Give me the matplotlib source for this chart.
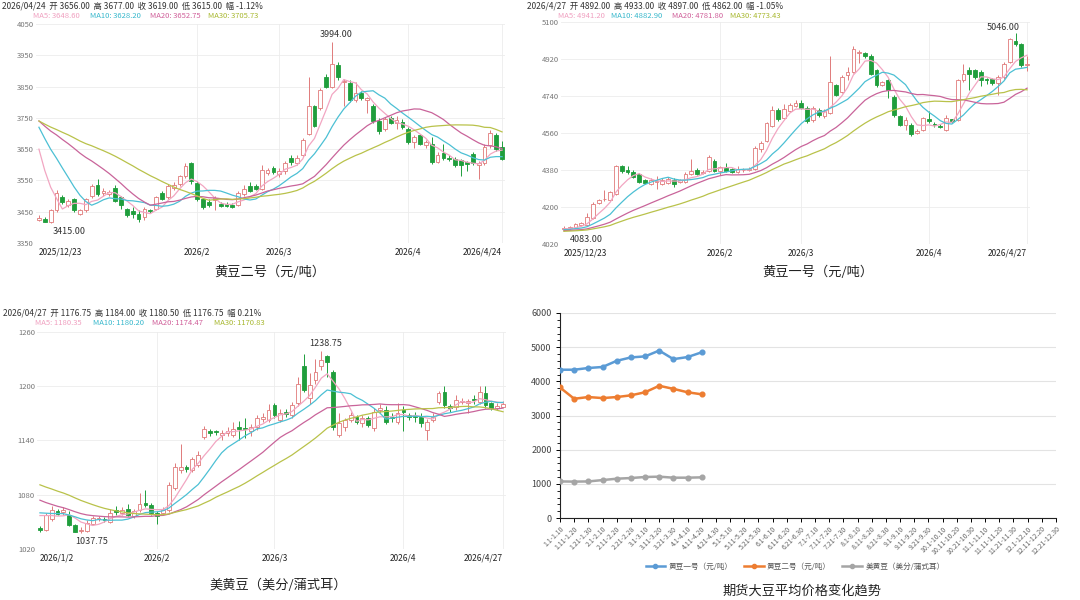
import numpy as np
import pandas as pd
import matplotlib
matplotlib.use("Agg")
import matplotlib.pyplot as plt
from matplotlib.ticker import MultipleLocator
from matplotlib.lines import Line2D

plt.rcParams['font.family'] = ['Noto Sans CJK SC', 'DejaVu Sans']
plt.rcParams['axes.unicode_minus'] = False

# ---------------- 黄豆二号 (daily candles 2025/12/23 - 2026/4/24)
d2_open = [3424, 3428, 3418, 3454, 3496, 3470, 3490, 3444, 3454, 3500,
           3534, 3509, 3506, 3527, 3496, 3459, 3451, 3444, 3433, 3456,
           3459, 3511, 3496, 3527, 3537, 3563, 3605, 3543, 3490, 3480,
           3488, 3475, 3475, 3472, 3470, 3506, 3532, 3531, 3522, 3574,
           3589, 3569, 3579, 3621, 3605, 3631, 3699, 3787, 3782, 3881,
           3850, 3918, 3866, 3860, 3808, 3829, 3806, 3787, 3741, 3715,
           3749, 3735, 3738, 3715, 3673, 3694, 3662, 3668, 3610, 3637,
           3623, 3618, 3616, 3608, 3633, 3600, 3605, 3662, 3694, 3656]
d2_close = [3430, 3418, 3454, 3511, 3480, 3485, 3454, 3454, 3490, 3532,
            3506, 3516, 3514, 3485, 3470, 3438, 3443, 3428, 3459, 3451,
            3496, 3490, 3532, 3534, 3563, 3595, 3548, 3490, 3465, 3470,
            3495, 3468, 3469, 3466, 3511, 3524, 3517, 3522, 3584, 3584,
            3578, 3579, 3605, 3610, 3621, 3678, 3787, 3725, 3840, 3850,
            3923, 3881, 3868, 3808, 3829, 3814, 3812, 3741, 3709, 3746,
            3735, 3742, 3720, 3673, 3689, 3668, 3673, 3610, 3631, 3621,
            3618, 3600, 3600, 3603, 3605, 3606, 3657, 3700, 3652, 3619]
d2_high = [3438, 3432, 3460, 3520, 3505, 3490, 3495, 3460, 3495, 3540,
           3555, 3525, 3520, 3535, 3500, 3462, 3465, 3455, 3465, 3460,
           3500, 3515, 3540, 3545, 3568, 3605, 3610, 3548, 3495, 3490,
           3500, 3480, 3482, 3478, 3515, 3535, 3545, 3540, 3600, 3590,
           3595, 3590, 3612, 3630, 3632, 3685, 3880, 3792, 3845, 3890,
           3994, 3930, 3875, 3870, 3866, 3835, 3818, 3795, 3748, 3752,
           3755, 3755, 3745, 3720, 3695, 3700, 3680, 3690, 3640, 3665,
           3630, 3625, 3620, 3612, 3640, 3612, 3665, 3710, 3702, 3677]
d2_low = [3420, 3416, 3415, 3450, 3475, 3465, 3448, 3440, 3450, 3495,
          3500, 3500, 3500, 3480, 3460, 3432, 3430, 3418, 3425, 3445,
          3455, 3486, 3490, 3520, 3532, 3558, 3540, 3485, 3460, 3465,
          3455, 3465, 3465, 3462, 3468, 3500, 3512, 3518, 3518, 3568,
          3570, 3560, 3572, 3600, 3598, 3625, 3695, 3720, 3775, 3845,
          3845, 3870, 3787, 3800, 3800, 3808, 3767, 3735, 3700, 3708,
          3730, 3715, 3715, 3668, 3655, 3662, 3655, 3602, 3605, 3615,
          3612, 3592, 3563, 3580, 3600, 3553, 3600, 3655, 3645, 3615]
# closes before the window (needed for the moving averages)
d2_prior = [3720, 3735, 3750, 3745, 3730, 3740, 3755, 3745, 3735, 3745,
            3750, 3765, 3760, 3770, 3755, 3750, 3765, 3760, 3760, 3765,
            3780, 3795, 3800, 3790, 3785, 3760, 3720, 3690, 3650]
d2_ticks = [0, 27, 41, 63, 79]
d2_ticklabels = ["2025/12/23", "2026/2", "2026/3", "2026/4", "2026/4/24"]
d2_yticks = [3350, 3450, 3550, 3650, 3750, 3850, 3950, 4050]
d2_date = "2026/04/24"
d2_pct = "-1.12%"
d2_ma_text = ["3648.60", "3628.20", "3652.75", "3705.73"]

# ---------------- 黄豆一号 (2025/12/23 - 2026/4/27)
d1_open = [4095, 4097, 4105, 4113, 4113, 4145, 4220, 4237, 4233, 4265,
           4401, 4382, 4372, 4361, 4329, 4313, 4321, 4313, 4318, 4332,
           4321, 4321, 4361, 4382, 4366, 4377, 4425, 4377, 4388, 4385,
           4372, 4378, 4380, 4385, 4481, 4521, 4593, 4673, 4633, 4665,
           4689, 4705, 4681, 4625, 4673, 4641, 4657, 4793, 4761, 4841,
           4857, 4950, 4948, 4937, 4865, 4793, 4817, 4737, 4641, 4601,
           4601, 4561, 4577, 4628, 4604, 4596, 4577, 4628, 4625, 4817,
           4868, 4865, 4857, 4820, 4825, 4801, 4833, 4905, 5009, 4993,
           4892]
d1_close = [4100, 4101, 4116, 4121, 4153, 4217, 4233, 4241, 4273, 4401,
            4377, 4369, 4345, 4321, 4318, 4329, 4325, 4329, 4334, 4313,
            4329, 4361, 4377, 4361, 4372, 4441, 4377, 4393, 4377, 4372,
            4385, 4380, 4387, 4489, 4513, 4609, 4673, 4628, 4676, 4697,
            4705, 4681, 4617, 4681, 4649, 4665, 4809, 4745, 4833, 4857,
            4969, 4955, 4935, 4849, 4793, 4809, 4769, 4649, 4601, 4625,
            4553, 4569, 4633, 4617, 4597, 4590, 4633, 4617, 4817, 4849,
            4849, 4833, 4817, 4816, 4801, 4833, 4897, 5017, 4993, 4889,
            4897]
d1_high = [4110, 4108, 4122, 4128, 4170, 4225, 4240, 4281, 4280, 4405,
           4405, 4400, 4380, 4365, 4335, 4340, 4353, 4340, 4345, 4340,
           4335, 4370, 4433, 4390, 4378, 4455, 4432, 4400, 4415, 4390,
           4400, 4390, 4395, 4495, 4520, 4615, 4690, 4680, 4700, 4705,
           4720, 4720, 4690, 4690, 4680, 4675, 4937, 4800, 4840, 4880,
           4985, 4965, 4955, 4945, 4870, 4815, 4825, 4745, 4650, 4640,
           4610, 4580, 4640, 4665, 4615, 4605, 4650, 4630, 4825, 4897,
           4880, 4870, 4865, 4830, 4830, 4840, 4905, 5020, 5046, 5000,
           4933]
d1_low = [4083, 4088, 4100, 4108, 4108, 4140, 4215, 4230, 4228, 4260,
          4365, 4360, 4340, 4315, 4312, 4305, 4290, 4305, 4310, 4295,
          4315, 4315, 4355, 4355, 4360, 4372, 4370, 4355, 4372, 4365,
          4365, 4368, 4375, 4380, 4470, 4515, 4588, 4620, 4628, 4660,
          4685, 4675, 4610, 4615, 4640, 4635, 4652, 4740, 4755, 4820,
          4850, 4900, 4925, 4840, 4785, 4790, 4729, 4640, 4595, 4575,
          4545, 4555, 4570, 4610, 4590, 4585, 4570, 4610, 4620, 4810,
          4770, 4825, 4790, 4800, 4795, 4745, 4825, 4900, 4985, 4880,
          4862]
d1_prior = [4070, 4075, 4068, 4080, 4072, 4078, 4085, 4070, 4076, 4082,
            4074, 4080, 4088, 4078, 4072, 4085, 4080, 4076, 4090, 4082,
            4086, 4080, 4092, 4088, 4085, 4090, 4095, 4088, 4092]
d1_ticks = [0, 27, 41, 63, 80]
d1_ticklabels = ["2025/12/23", "2026/2", "2026/3", "2026/4", "2026/4/27"]
d1_yticks = [4020, 4200, 4380, 4560, 4740, 4920, 5100]
d1_date = "2026/4/27"
d1_pct = "-1.05%"
d1_ma_text = ["4941.20", "4882.90", "4781.80", "4773.43"]

# ---------------- 美黄豆 (2026/1/2 - 2026/4/27)
us_open = [1043, 1041, 1053, 1062.5, 1061, 1058, 1047, 1039.5, 1040, 1048,
           1053, 1052.5, 1050, 1063, 1060, 1064, 1056, 1063, 1071, 1069,
           1060, 1060, 1063, 1087, 1107.5, 1111, 1107, 1113, 1144, 1150.5,
           1150, 1146, 1148, 1146, 1155, 1153.5, 1150, 1155, 1164, 1163,
           1179, 1163, 1172, 1168, 1181, 1222, 1187, 1207, 1222, 1233,
           1216, 1146, 1155, 1163, 1166, 1159, 1165, 1153.5, 1174, 1174,
           1166, 1161, 1174, 1168, 1167, 1166, 1152, 1163, 1183, 1194,
           1178, 1177, 1183, 1181, 1186, 1183, 1192, 1181, 1176, 1176.75]
us_close = [1040.5, 1058, 1063, 1059, 1063, 1047, 1039, 1041, 1049, 1054,
            1053.5, 1052, 1060, 1061, 1063, 1058, 1062, 1070, 1069, 1060,
            1056.5, 1063, 1091, 1111, 1111, 1108, 1120, 1124, 1153, 1148.5,
            1149, 1148.5, 1150, 1153, 1153, 1153, 1155, 1164.5, 1165.5, 1174,
            1168, 1170, 1169.5, 1179, 1203, 1196, 1201, 1216, 1229, 1227,
            1155, 1159, 1163, 1168, 1161, 1165, 1157, 1172, 1176, 1161,
            1164.5, 1170, 1172, 1166.5, 1166, 1159, 1161, 1166, 1192, 1179,
            1176, 1185, 1184, 1184, 1184.5, 1194, 1179, 1176, 1178.5, 1180.5]
us_high = [1045, 1060, 1068, 1064, 1067, 1062, 1048, 1044, 1052, 1056,
           1056, 1055, 1064, 1068, 1066, 1070, 1064, 1082, 1085, 1071,
           1062, 1066, 1094, 1115, 1136, 1113, 1122, 1128, 1156, 1153,
           1152, 1152, 1155, 1160, 1162, 1165, 1158, 1168, 1170, 1180,
           1182, 1175, 1175, 1183, 1210, 1236, 1215, 1230, 1238.75, 1235,
           1218, 1170, 1165, 1172, 1168, 1168, 1167, 1176, 1180, 1178,
           1170, 1182, 1178, 1170, 1172, 1170, 1164, 1170, 1195, 1200,
           1180, 1190, 1187, 1186, 1190, 1200, 1200, 1183, 1181, 1184]
us_low = [1038.5, 1040, 1051, 1058, 1058, 1045, 1038.5, 1037.75, 1039, 1046,
          1051, 1050, 1049, 1058, 1058, 1056, 1054, 1061, 1067, 1058,
          1048, 1058, 1061, 1085, 1104, 1105, 1105, 1111, 1142, 1145,
          1146, 1140, 1145, 1144, 1140, 1143, 1145, 1152, 1160, 1160,
          1165, 1160, 1166, 1165, 1178, 1194, 1180, 1203, 1218, 1210,
          1152, 1144, 1150, 1160, 1158, 1155, 1155, 1150, 1170, 1158,
          1160, 1158, 1150, 1163, 1160, 1155, 1141, 1160, 1180, 1176,
          1172, 1174, 1180, 1170, 1180, 1180, 1176, 1174, 1174, 1176.75]
us_prior = [1132, 1128, 1130, 1126, 1122, 1127, 1124, 1120, 1123, 1118,
            1110, 1105, 1100, 1095, 1090, 1085, 1082, 1078, 1070, 1065,
            1062, 1066, 1060, 1064, 1063, 1058, 1063, 1062, 1061.5]
us_ticks = [0, 20, 40, 62, 79]
us_ticklabels = ["2026/1/2", "2026/2", "2026/3", "2026/4", "2026/4/27"]
us_yticks = [1020, 1080, 1140, 1200, 1260]
us_date = "2026/04/27"
us_pct = "0.21%"
us_ma_text = ["1180.35", "1180.20", "1174.47", "1170.83"]

# ---------------- 期货大豆平均价格变化趋势 (dekad averages)
months = range(1, 13)
month_end = {2: 28}
periods = []
for m in months:
    periods += [f"{m}.1-{m}.10", f"{m}.11-{m}.20", f"{m}.21-{m}.{month_end.get(m, 30)}"]
avg_soy1 = [4340, 4340, 4390, 4420, 4600, 4700, 4730, 4900, 4650, 4710, 4850]
avg_soy2 = [3820, 3490, 3540, 3510, 3540, 3590, 3680, 3870, 3780, 3680, 3620]
avg_us = [1070, 1065, 1070, 1110, 1150, 1170, 1200, 1210, 1180, 1180, 1190]
series_names = ["黄豆一号（元/吨）", "黄豆二号（元/吨）", "美黄豆（美分/蒲式耳）"]

# ---------------- drawing
W, H = 1080, 600
fig = plt.figure(figsize=(W / 100, H / 100), dpi=100)

UP = '#e07a7a'
DOWN = '#1f9e3c'
MA_COLORS = ['#f2a6c2', '#4cc0d4', '#c9649a', '#b9c24a']
MA_TEXT_COLORS = ['#f0a0c0', '#38b8cc', '#d0609a', '#a8b830']


def px_rect(x0, y0, x1, y1):
    return [x0 / W, 1 - y1 / H, (x1 - x0) / W, (y1 - y0) / H]


def candle_panel(rect, o, h, l, c, prior, yticks, tick_idx, tick_lab,
                 hi_off, lo_off, head_xy, date, pct, ma_txt, ma_x, title, title_xy):
    ax = fig.add_axes(px_rect(*rect))
    o, h, l, c = (np.asarray(v, dtype=float) for v in (o, h, l, c))
    x = np.arange(len(c))
    up = c >= o
    span = yticks[-1] - yticks[0]

    for t in tick_idx[1:]:
        ax.axvline(t, color='#ececec', lw=0.6, zorder=0)
    for yv in yticks:
        ax.axhline(yv, color='#ececec', lw=0.6, zorder=0)

    cols = np.where(up, UP, DOWN)
    ax.vlines(x, l, h, colors=cols, lw=0.7, zorder=2)
    body = np.maximum(np.abs(c - o), span * 0.004)
    ax.bar(x[up], body[up], bottom=np.minimum(o, c)[up], width=0.65,
           facecolor='white', edgecolor=UP, linewidth=0.6, zorder=3)
    ax.bar(x[~up], body[~up], bottom=np.minimum(o, c)[~up], width=0.65,
           facecolor=DOWN, edgecolor=DOWN, linewidth=0.6, zorder=3)

    s = pd.Series(list(prior) + list(c))
    for n, col in zip([5, 10, 20, 30], MA_COLORS):
        ma = s.rolling(n).mean().to_numpy()[len(prior):]
        ax.plot(x, ma, color=col, lw=0.9, zorder=4)

    imax, imin = int(np.argmax(h)), int(np.argmin(l))
    ax.annotate(f"{h[imax]:.2f}", (imax, h[imax]), xytext=hi_off, textcoords='offset points',
                ha='center', va='bottom', fontsize=6.5, color='#333')
    ax.annotate(f"{l[imin]:.2f}", (imin, l[imin]), xytext=lo_off, textcoords='offset points',
                ha='center', va='top', fontsize=6.5, color='#333')

    ax.set_xlim(-0.5, len(c) - 0.5)
    ax.set_ylim(yticks[0], yticks[-1])
    ax.set_yticks(yticks)
    ax.set_yticklabels([str(v) for v in yticks])
    ax.tick_params(axis='y', length=0, pad=1.5, labelsize=5.5, labelcolor='#777')
    ax.set_xticks(tick_idx)
    ax.set_xticklabels(tick_lab, fontweight='medium')
    ax.tick_params(axis='x', length=0, pad=3, labelsize=6, labelcolor='#222')
    labs = ax.get_xticklabels()
    labs[0].set_ha('left')
    labs[-1].set_ha('right')
    for sp in ax.spines.values():
        sp.set_visible(False)

    hx, hy = head_xy
    head = (f"{date}  开 {o[-1]:.2f}  高 {h[-1]:.2f}  收 {c[-1]:.2f}  "
            f"低 {l[-1]:.2f}  幅 {pct}")
    fig.text(hx / W, 1 - hy / H, head, fontsize=6, color='#333', va='center', ha='left')
    for k, (n, txt, col) in enumerate(zip([5, 10, 20, 30], ma_txt, MA_TEXT_COLORS)):
        fig.text(ma_x[k] / W, 1 - (hy + 10) / H, f"MA{n}: {txt}", fontsize=5.5,
                 color=col, va='center', ha='left')
    fig.text(title_xy[0] / W, 1 - title_xy[1] / H, title, fontsize=9.5, color='#222',
             ha='center', va='center')
    return ax


candle_panel((36, 24, 505, 243), d2_open, d2_high, d2_low, d2_close, d2_prior,
             d2_yticks, d2_ticks, d2_ticklabels, (3, 2), (13, -3),
             (2, 6), d2_date, d2_pct, d2_ma_text, [33, 90, 150, 208],
             "黄豆二号（元/吨）", (270, 272))
candle_panel((561, 22, 1030, 244), d1_open, d1_high, d1_low, d1_close, d1_prior,
             d1_yticks, d1_ticks, d1_ticklabels, (-9, 1), (16, -3),
             (527, 6), d1_date, d1_pct, d1_ma_text, [558, 611, 672, 730],
             "黄豆一号（元/吨）", (818, 272))
candle_panel((37, 332, 506, 549), us_open, us_high, us_low, us_close, us_prior,
             us_yticks, us_ticks, us_ticklabels, (3, 2), (8, -3),
             (3, 313), us_date, us_pct, us_ma_text, [35, 93, 152, 214],
             "美黄豆（美分/蒲式耳）", (278, 585))

# line chart
ax = fig.add_axes(px_rect(560, 313, 1056, 518))
line_colors = ['#5b9bd5', '#ed7d31', '#a5a5a5']
for vals, col, name in zip([avg_soy1, avg_soy2, avg_us], line_colors, series_names):
    ax.plot(range(len(vals)), vals, color=col, lw=1.8, marker='o', ms=3.4, label=name,
            zorder=3)
ax.set_xlim(0, len(periods) - 1)
ax.set_ylim(0, 6000)
ax.set_yticks(range(0, 6001, 1000))
ax.yaxis.set_minor_locator(MultipleLocator(200))
ax.grid(axis='y', color='#e3e3e3', lw=0.8, zorder=0)
ax.set_xticks(range(len(periods)))
ax.set_xticklabels(periods, rotation=45, ha='right', rotation_mode='anchor')
ax.tick_params(axis='x', length=3, width=0.7, pad=2, labelsize=5, labelcolor='#666',
               direction='out')
ax.tick_params(axis='y', which='major', length=3, width=0.7, labelsize=6.5,
               labelcolor='#444', pad=3)
ax.tick_params(axis='y', which='minor', length=2, width=0.6)
for sp in ['top', 'right']:
    ax.spines[sp].set_visible(False)
for sp in ['left', 'bottom']:
    ax.spines[sp].set_color('#222')
    ax.spines[sp].set_linewidth(0.8)

handles = [Line2D([], [], color=col, lw=1.8, marker='o', ms=3) for col in line_colors]
fig.legend(handles, series_names, loc='center', bbox_to_anchor=(795 / W, 1 - 567 / H),
           ncol=3, frameon=False, fontsize=5.5, handlelength=2.6, columnspacing=1.5,
           handletextpad=0.4, labelcolor='#555')
fig.text(802 / W, 1 - 591 / H, "期货大豆平均价格变化趋势", fontsize=9.5, color='#222',
         ha='center', va='center')

fig.savefig("out.png", dpi=100)
